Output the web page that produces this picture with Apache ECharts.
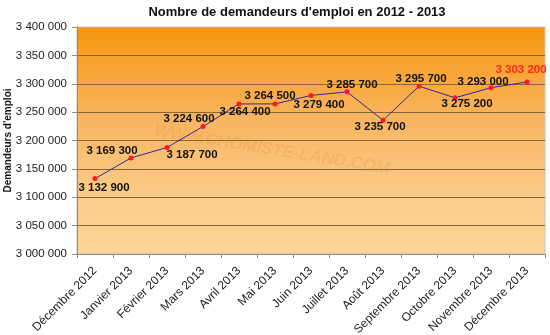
<!DOCTYPE html>
<html>
<head>
<meta charset="utf-8">
<script src="https://cdn.jsdelivr.net/npm/echarts@6/dist/echarts.min.js"></script>
<style>
html,body{margin:0;padding:0;background:#fff;}
#chart{width:550px;height:335px;}
</style>
</head>
<body>
<div id="chart"></div>
<script>
var categories = ['Décembre 2012','Janvier 2013','Février 2013','Mars 2013','Avril 2013','Mai 2013','Juin 2013','Juillet 2013','Août 2013','Septembre 2013','Octobre 2013','Novembre 2013','Décembre 2013'];
var values = [3132900,3169300,3187700,3224600,3264400,3264500,3279400,3285700,3235700,3295700,3275200,3293000,3303200];
var yTicks = [3000000,3050000,3100000,3150000,3200000,3250000,3300000,3350000,3400000];
// label placement (offset of label centre from point), pixels
var labelOffsets = [[9,9],[-19,-7],[25,7],[-14,-8],[6,8],[-5,-8],[8,9],[5,-7],[-3,7],[2,-7],[12,6],[-8,-6],[-6,-12]];

function fmt(v){ return String(v).replace(/\B(?=(\d{3})+(?!\d))/g,' '); }

var FONT = 'Liberation Sans, Arial, sans-serif';
var seriesData = values.map(function(v,i){
  var last = i === values.length-1;
  return {
    value: v,
    label: {
      show: true,
      position: 'inside',
      offset: labelOffsets[i],
      align: 'center',
      verticalAlign: 'middle',
      formatter: fmt(v),
      color: last ? '#ff2a1a' : '#111',
      fontSize: 11.5,
      fontWeight: 'bold',
      fontFamily: FONT
    }
  };
});

var chart = echarts.init(document.getElementById('chart'), null, {renderer:'canvas'});
chart.setOption({
  animation: false,
  backgroundColor: '#ffffff',
  title: {
    text: "Nombre de demandeurs d'emploi en 2012 - 2013",
    left: 292, top: 1, textAlign: 'center',
    textStyle: {fontSize: 13, fontWeight: 'bold', color: '#111', fontFamily: FONT}
  },
  grid: {
    left: 77, right: 5, top: 27, bottom: 81,
    containLabel: false,
    outerBoundsMode: 'none',
    show: true,
    borderColor: '#c4c4c4', borderWidth: 1,
    backgroundColor: {
      type: 'linear', x: 0, y: 0, x2: 0, y2: 1,
      colorStops: [
        {offset: 0, color: '#f7960e'},
        {offset: 0.45, color: '#f9b867'},
        {offset: 0.75, color: '#fbcc88'},
        {offset: 1, color: '#fcd699'}
      ]
    }
  },
  graphic: [{
    type: 'text',
    x: 272, y: 150,
    rotation: -0.16,
    z: 1,
    style: {
      text: 'WWW.CHOMISTE-LAND.COM',
      x: 0, y: 0,
      align: 'center', verticalAlign: 'middle',
      font: 'italic bold 17px ' + FONT,
      fill: 'rgba(215,120,30,0.16)'
    }
  }],
  xAxis: {
    type: 'category',
    data: categories,
    boundaryGap: true,
    axisLine: {show: true, lineStyle: {color: '#8c8c8c', width: 1}},
    axisTick: {show: true, length: 4, alignWithLabel: false, lineStyle: {color: '#8c8c8c'}},
    axisLabel: {interval: 0, rotate: 45, margin: 15, fontSize: 12, color: '#222', fontFamily: FONT},
    splitLine: {show: false}
  },
  yAxis: {
    type: 'value',
    min: yTicks[0], max: yTicks[yTicks.length-1], interval: 50000,
    name: "Demandeurs d'emploi",
    nameLocation: 'middle', nameRotate: 90, nameGap: 64,
    nameMoveOverlap: false,
    nameTextStyle: {fontSize: 10, fontWeight: 'bold', color: '#111', fontFamily: FONT},
    axisLine: {show: true, lineStyle: {color: '#8c8c8c', width: 1}},
    axisTick: {show: true, length: 5, lineStyle: {color: '#8c8c8c'}},
    axisLabel: {margin: 10, fontSize: 11.5, color: '#222', fontFamily: FONT, formatter: function(v){return fmt(v);}},
    splitLine: {show: true, showMinLine: false, showMaxLine: false, lineStyle: {color: '#85653a', width: 1}}
  },
  series: [{
    type: 'line',
    data: seriesData,
    z: 3,
    lineStyle: {color: '#2b2b9a', width: 1},
    itemStyle: {color: '#ff1a1a', borderWidth: 0},
    symbol: 'circle',
    symbolSize: 5,
    showAllSymbol: true
  }]
});
</script>
</body>
</html>
